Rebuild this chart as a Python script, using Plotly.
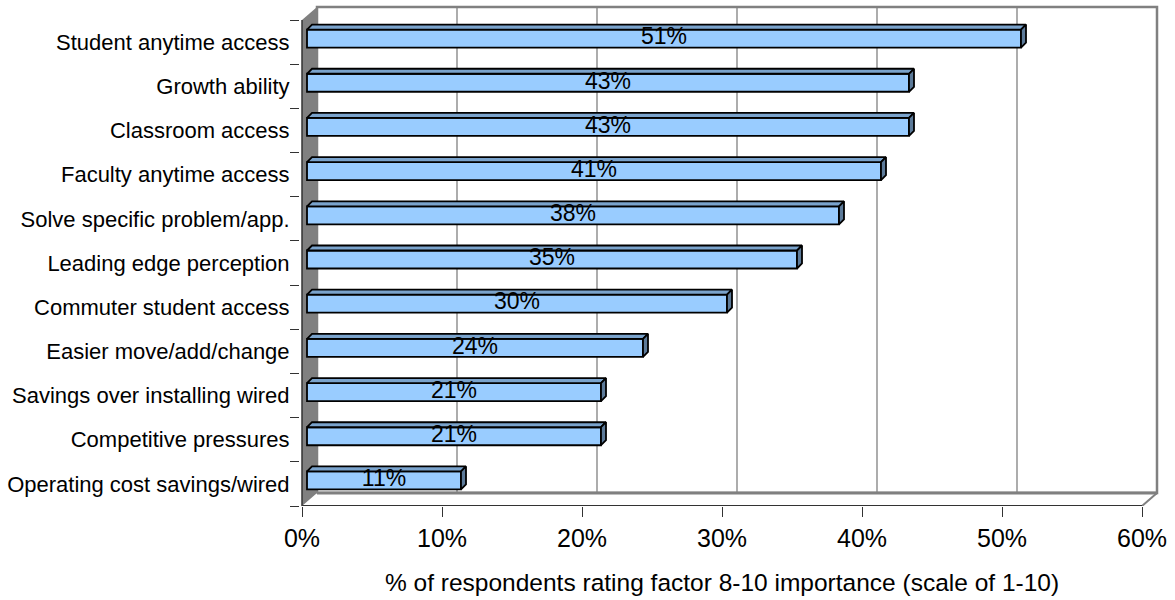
import plotly.graph_objects as go

# Survey factors, listed bottom to top as drawn on the category axis
factors = [
    "Operating cost savings/wired",
    "Competitive pressures",
    "Savings over installing wired",
    "Easier move/add/change",
    "Commuter student access",
    "Leading edge perception",
    "Solve specific problem/app.",
    "Faculty anytime access",
    "Classroom access",
    "Growth ability",
    "Student anytime access",
]
share_pct = [11, 21, 21, 24, 30, 35, 38, 41, 43, 43, 51]

x_ticks = [0, 10, 20, 30, 40, 50, 60]
x_tick_labels = ["0%", "10%", "20%", "30%", "40%", "50%", "60%"]
x_title = "% of respondents rating factor 8-10 importance (scale of 1-10)"

# ---- pseudo-3D geometry (pixel sizes converted to axis units) ----
W, H = 1175, 600
ML, MR, MT, MB = 300, 13, 4, 94
PX = 14.0                      # pixels per percentage point
n = len(factors)
PY = 486.0 / n                 # pixels per category band
DX, DY = 15 / PX, 13 / PY      # depth of the box (walls / floor)
BX, BY = 5 / PX, 3.5 / PY      # where the bar front sits inside the depth
BDX, BDY = 5 / PX, 5 / PY      # bar thickness in depth
BH = 18 / PY                   # bar height
XMAX = 60

x_lo = -2 / PX
x_hi = x_lo + (W - ML - MR) / PX
y_hi = (H - MT - MB) / PY

FRONT = "#99CCFF"
TOP = "#7AA3CC"
SIDE = "#5C7A99"
WALL = "#808080"
DARK = "#333333"
FONT = "Arial, Liberation Sans, sans-serif"

fig = go.Figure()

# front faces of the bars
ycs = [i + 0.5 + BY for i in range(n)]
fig.add_trace(go.Bar(
    orientation="h", y=ycs, x=share_pct, base=[BX] * n, width=BH,
    marker=dict(color=FRONT, line=dict(color="black", width=1.8)),
    hoverinfo="skip", showlegend=False,
))

# top and side faces
tx, ty, sx, sy = [], [], [], []
for v, yc in zip(share_pct, ycs):
    x0, x1 = BX, BX + v
    yt, yb = yc + BH / 2, yc - BH / 2
    tx += [x0, x1, x1 + BDX, x0 + BDX, x0, None]
    ty += [yt, yt, yt + BDY, yt + BDY, yt, None]
    sx += [x1, x1 + BDX, x1 + BDX, x1, x1, None]
    sy += [yb, yb + BDY, yt + BDY, yt, yb, None]
for fx, fy, col in ((tx, ty, TOP), (sx, sy, SIDE)):
    fig.add_trace(go.Scatter(
        x=fx, y=fy, mode="lines", fill="toself", fillcolor=col,
        line=dict(color="black", width=1.8), hoverinfo="skip", showlegend=False,
    ))

# value labels centred on each bar
fig.add_trace(go.Scatter(
    x=[BX + v / 2 for v in share_pct], y=ycs, mode="text",
    text=[f"{v}%" for v in share_pct], textposition="middle center",
    textfont=dict(family=FONT, size=23, color="black"),
    hoverinfo="skip", showlegend=False,
))

shapes = []
# back wall
shapes.append(dict(type="rect", x0=DX, x1=XMAX + DX, y0=DY, y1=n + DY,
                   fillcolor="white", line=dict(color=WALL, width=2.5), layer="below"))
# back-wall gridlines and their floor continuations
for t in x_ticks[1:-1]:
    shapes.append(dict(type="line", x0=t + DX, x1=t + DX, y0=DY, y1=n + DY,
                       line=dict(color=WALL, width=1.3), layer="below"))
    shapes.append(dict(type="line", x0=t, x1=t + DX, y0=0, y1=DY,
                       line=dict(color=DARK, width=1), layer="below"))
# floor
shapes.append(dict(type="path",
                   path=f"M0,0 L{XMAX},0 L{XMAX + DX},{DY} L{DX},{DY} Z",
                   fillcolor="white", line=dict(width=0), layer="below"))
shapes.append(dict(type="line", x0=DX, x1=XMAX + DX, y0=DY, y1=DY,
                   line=dict(color=WALL, width=3), layer="below"))
shapes.append(dict(type="line", x0=XMAX, x1=XMAX + DX, y0=0, y1=DY,
                   line=dict(color=WALL, width=2), layer="below"))
shapes.append(dict(type="line", x0=0, x1=XMAX, y0=0, y1=0,
                   line=dict(color=DARK, width=2), layer="below"))
# left wall
shapes.append(dict(type="path",
                   path=f"M0,0 L0,{n} L{DX},{n + DY} L{DX},{DY} Z",
                   fillcolor=WALL, line=dict(width=0), layer="below"))
shapes.append(dict(type="line", x0=0, x1=0, y0=0, y1=n,
                   line=dict(color=DARK, width=1.5), layer="below"))

fig.update_layout(
    width=W, height=H,
    margin=dict(l=ML, r=MR, t=MT, b=MB, pad=0),
    paper_bgcolor="white", plot_bgcolor="white",
    showlegend=False, shapes=shapes,
    xaxis=dict(
        range=[x_lo, x_hi], tickmode="array", tickvals=x_ticks, ticktext=x_tick_labels,
        ticks="outside", ticklen=10, tickwidth=1.3, tickcolor=DARK,
        tickfont=dict(family=FONT, size=25, color="black"),
        showgrid=False, zeroline=False, showline=False, fixedrange=True,
    ),
    yaxis=dict(
        range=[0, y_hi], tickmode="array",
        tickvals=[i + 0.5 for i in range(n)], ticktext=factors,
        ticks="outside", ticklen=5, tickcolor="rgba(0,0,0,0)",
        tickfont=dict(family=FONT, size=22, color="black"),
        minor=dict(tickmode="array", tickvals=list(range(n + 1)),
                   ticks="outside", ticklen=9, tickwidth=1.3, tickcolor=DARK),
        showgrid=False, zeroline=False, showline=False, fixedrange=True,
    ),
    # axis title, 76 px below the floor line
    annotations=[dict(
        text=x_title, x=XMAX / 2, xref="x", y=-76 / (H - MT - MB),
        yref="paper", yanchor="middle", showarrow=False,
        font=dict(family=FONT, size=24.5, color="black"),
    )],
)

fig.write_html("out.html")
